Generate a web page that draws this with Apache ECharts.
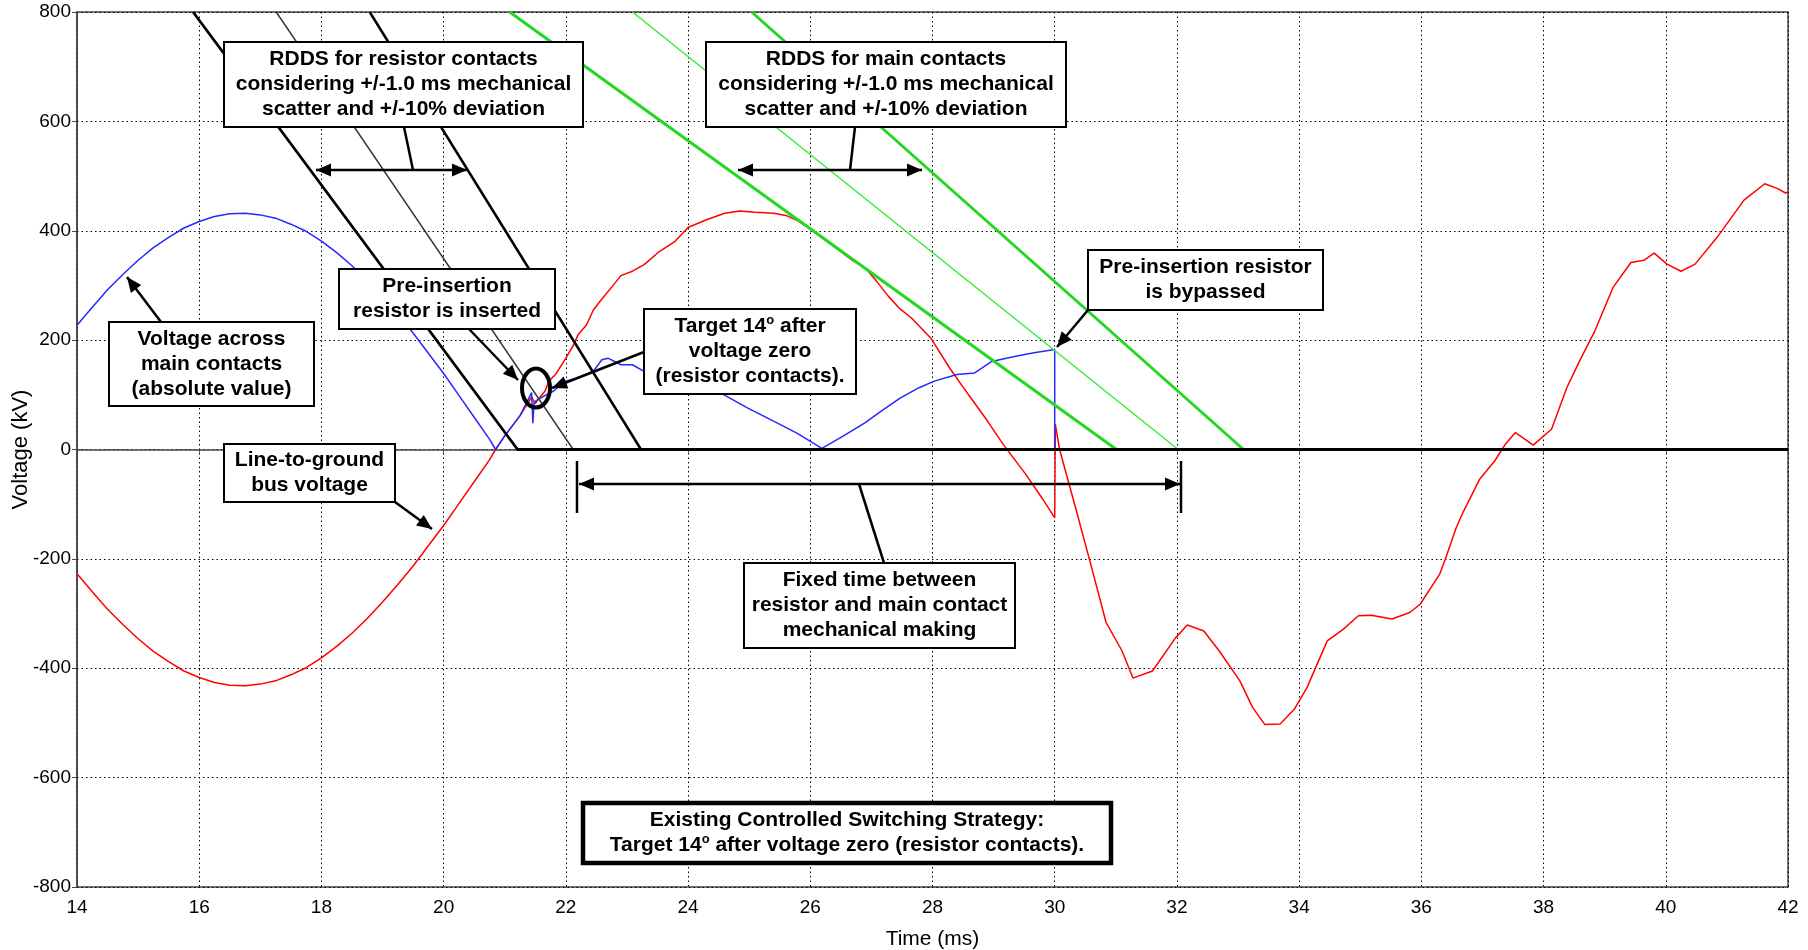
<!DOCTYPE html>
<html><head><meta charset="utf-8">
<script src="https://cdn.jsdelivr.net/npm/echarts@6/dist/echarts.min.js"></script>
<style>html,body{margin:0;padding:0;background:#fff}#c{width:1808px;height:950px}</style>
</head><body><div id="c"></div>
<script>
// ---- Data ----
const xTicks = [14, 16, 18, 20, 22, 24, 26, 28, 30, 32, 34, 36, 38, 40, 42];
const yTicks = [-800, -600, -400, -200, 0, 200, 400, 600, 800];

// Line-to-ground bus voltage (kV) vs time (ms)
const busTime = [14,14.25,14.5,14.75,15,15.25,15.5,15.75,16,16.25,16.5,16.75,17,17.25,17.5,17.75,18,18.25,18.5,18.75,19,19.25,19.5,19.75,20,20.25,20.5,20.75,20.85,21,21.25,21.44,21.5,21.55,21.66,21.72,21.83,22.0,22.13,22.2,22.34,22.45,22.56,22.78,22.9,23.09,23.28,23.53,23.78,24.0,24.3,24.6,24.85,25.1,25.4,25.6,25.8,26.0,26.28,26.5,26.7,26.9,27.09,27.28,27.46,27.66,27.97,28.28,28.59,28.9,29.16,29.53,29.8,30.0,30.01,30.08,30.34,30.59,30.84,31.1,31.28,31.6,31.98,32.17,32.44,32.69,33.03,33.24,33.44,33.69,33.92,34.13,34.46,34.72,34.97,35.18,35.52,35.81,35.98,36.3,36.4,36.57,36.69,36.95,37.2,37.37,37.54,37.83,38.13,38.38,38.59,38.84,39.14,39.43,39.64,39.81,40.02,40.25,40.48,40.86,41.28,41.62,41.83,41.96,42];
const busKV = [-227,-260,-292,-320,-346,-369,-388,-405,-417,-426,-431,-432,-429,-423,-412,-399,-381,-360,-336,-309,-279,-247,-213,-176,-139,-99,-59,-19,0,25,62,96,84,92,107,125,137,167,192,210,228,255,271,301,318,326,338,362,380,406,420,432,436,434,432,428,418,404,380,362,345,332,307,280,258,240,204,149,100,52,9,-46,-90,-125,46,0,-106,-210,-316,-368,-418,-405,-344,-321,-332,-368,-423,-472,-503,-502,-475,-435,-350,-329,-304,-303,-310,-298,-283,-228,-198,-143,-113,-55,-21,9,31,8,37,113,162,217,297,342,346,359,339,326,339,391,456,486,477,469,471];

// Voltage across main contacts (absolute value)
const contactTime = [14,14.25,14.5,14.75,15,15.25,15.5,15.75,16,16.25,16.5,16.75,17,17.25,17.5,17.75,18,18.25,18.5,18.75,19,19.25,19.5,19.75,20,20.25,20.5,20.75,20.85,21,21.25,21.44,21.46,21.48,21.55,21.8,21.99,22.2,22.45,22.59,22.69,22.9,23.09,23.28,23.6,24.0,24.3,24.59,24.97,25.4,25.78,26.19,26.53,26.9,27.16,27.47,27.78,28.03,28.4,28.69,28.97,29.34,29.66,30.0,30.0,42];
const contactKV = [227,260,292,320,346,369,388,405,417,426,431,432,429,423,412,399,381,360,336,309,279,247,213,176,139,99,59,19,0,25,62,104,48,86,92,107,125,131,143,164,167,155,155,143,135,122,112,100,76,52,30,2,24,49,70,94,113,125,137,140,161,170,177,183,0,0];

// RDDS lines [time ms, kV]
const rddsResistorEarly = [[15.9, 800], [21.21, 0], [42, 0]];
const rddsResistorNominal = [[17.26, 800], [22.12, 0]];
const rddsResistorLate = [[18.79, 800], [23.23, 0]];
const rddsMainEarly = [[21.08, 800], [31.01, 0]];
const rddsMainNominal = [[23.09, 800], [32.02, 0]];
const rddsMainLate = [[25.04, 800], [33.09, 0]];

const zip = (a, b) => a.map((t, i) => [t, b[i]]);

// ---- Annotations (pixel layout) ----
const FONT = 'Liberation Sans, Arial, Helvetica, sans-serif';
const G = [];
function box(x, y, w, h, text, lw) {
  G.push({type: 'rect', z: 100, shape: {x, y, width: w, height: h},
    style: {fill: '#fff', stroke: '#000', lineWidth: lw || 2}});
  G.push({type: 'text', z: 101, x: x + w / 2, y: y + h / 2,
    style: {text, fontSize: 21, fontWeight: 'bold', fontFamily: FONT, fill: '#000',
      align: 'center', verticalAlign: 'middle', lineHeight: 25,
      rich: {sup: {fontSize: 13, fontWeight: 'bold', fontFamily: FONT, verticalAlign: 'top', fill: '#000'}}}});
}
function head(x1, y1, x2, y2) {
  const a = Math.atan2(y2 - y1, x2 - x1), L = 15, W = 6.5;
  const bx = x2 - L * Math.cos(a), by = y2 - L * Math.sin(a);
  G.push({type: 'polygon', z: 103, shape: {points: [[x2, y2],
    [bx + W * Math.sin(a), by - W * Math.cos(a)], [bx - W * Math.sin(a), by + W * Math.cos(a)]]},
    style: {fill: '#000'}});
}
function seg(x1, y1, x2, y2, lw) {
  G.push({type: 'line', z: 102, shape: {x1, y1, x2, y2}, style: {stroke: '#000', lineWidth: lw || 2.5}});
}
function arrow(x1, y1, x2, y2) { seg(x1, y1, x2, y2); head(x1, y1, x2, y2); }
function dbl(x1, y1, x2, y2) { seg(x1, y1, x2, y2); head(x1, y1, x2, y2); head(x2, y2, x1, y1); }

box(224, 42, 359, 85, 'RDDS for resistor contacts\nconsidering +/-1.0 ms mechanical\nscatter and +/-10% deviation');
box(706, 42, 360, 85, 'RDDS for main contacts\nconsidering +/-1.0 ms mechanical\nscatter and +/-10% deviation');
box(109, 322, 205, 84, 'Voltage across\nmain contacts\n(absolute value)');
box(339, 269, 216, 60, 'Pre-insertion\nresistor is inserted');
box(644, 309, 212, 85, 'Target 14{sup|o} after\nvoltage zero\n(resistor contacts).');
box(1088, 250, 235, 60, 'Pre-insertion resistor\nis bypassed');
box(224, 444, 171, 58, 'Line-to-ground\nbus voltage');
box(744, 563, 271, 85, 'Fixed time between\nresistor and main contact\nmechanical making');
box(583, 803, 528, 60, 'Existing Controlled Switching Strategy:\nTarget 14{sup|o} after voltage zero (resistor contacts).', 4.5);

dbl(316, 170, 467, 170); seg(404, 127, 413, 170);
dbl(738, 170, 922, 170); seg(855, 127, 850, 170);
arrow(161, 322, 127, 277);
arrow(469, 329, 518, 380);
arrow(644, 352, 552, 388);
arrow(1088, 310, 1057, 347);
arrow(395, 502, 432, 529);
dbl(579, 484, 1180, 484); seg(577, 461, 577, 513); seg(1181, 461, 1181, 513); seg(859, 484, 884, 563);
G.push({type: 'ellipse', z: 104, shape: {cx: 536, cy: 388, rx: 14, ry: 19.5},
  style: {fill: 'none', stroke: '#000', lineWidth: 4}});

// ---- Chart ----
const chart = echarts.init(document.getElementById('c'), null, {renderer: 'canvas'});
const lineS = (name, data, color, width, z) => ({
  name, type: 'line', data, showSymbol: false, symbol: 'none', smooth: false, z: z || 2,
  lineStyle: {color, width}, emphasis: {disabled: true}, silent: true
});
chart.setOption({
  animation: false,
  backgroundColor: '#fff',
  grid: {left: 77, right: 20, top: 12, bottom: 63, outerBoundsMode: 'none', containLabel: false,
    show: true, borderColor: '#444', borderWidth: 1.5},
  xAxis: {
    type: 'value', min: xTicks[0], max: xTicks[xTicks.length - 1], interval: 2,
    name: 'Time (ms)', nameLocation: 'middle', nameGap: 42, nameMoveOverlap: false,
    nameTextStyle: {fontSize: 21, color: '#000', fontFamily: FONT},
    axisLine: {show: true, lineStyle: {color: '#444', width: 1.5}},
    axisTick: {show: true, length: 3, lineStyle: {color: '#444'}},
    axisLabel: {fontSize: 19, color: '#000', fontFamily: FONT, margin: 11},
    splitLine: {show: true, lineStyle: {color: '#000', width: 1, type: [1.5, 3]}}
  },
  yAxis: {
    type: 'value', min: yTicks[0], max: yTicks[yTicks.length - 1], interval: 200,
    name: 'Voltage (kV)', nameLocation: 'middle', nameGap: 45, nameMoveOverlap: false,
    nameTextStyle: {fontSize: 22, color: '#000', fontFamily: FONT},
    axisLine: {show: true, lineStyle: {color: '#444', width: 1.5}},
    axisTick: {show: true, length: 5, lineStyle: {color: '#444'}},
    axisLabel: {fontSize: 19, color: '#000', fontFamily: FONT, margin: 6},
    splitLine: {show: true, lineStyle: {color: '#000', width: 1, type: [1.5, 3]}}
  },
  series: [
    lineS('Line-to-ground bus voltage', zip(busTime, busKV), '#ff0000', 1.5, 3),
    lineS('Voltage across main contacts', zip(contactTime, contactKV), '#2828ff', 1.5, 3),
    lineS('RDDS main early', rddsMainEarly, '#22d822', 3, 4),
    lineS('RDDS main nominal', rddsMainNominal, '#33ee33', 1.5, 4),
    lineS('RDDS main late', rddsMainLate, '#22d822', 3, 4),
    lineS('RDDS resistor nominal', rddsResistorNominal, '#333', 1.4, 5),
    lineS('RDDS resistor late', rddsResistorLate, '#000', 2.5, 5),
    lineS('RDDS resistor early', rddsResistorEarly, '#000', 2.8, 6)
  ],
  graphic: {elements: G}
});
</script></body></html>
